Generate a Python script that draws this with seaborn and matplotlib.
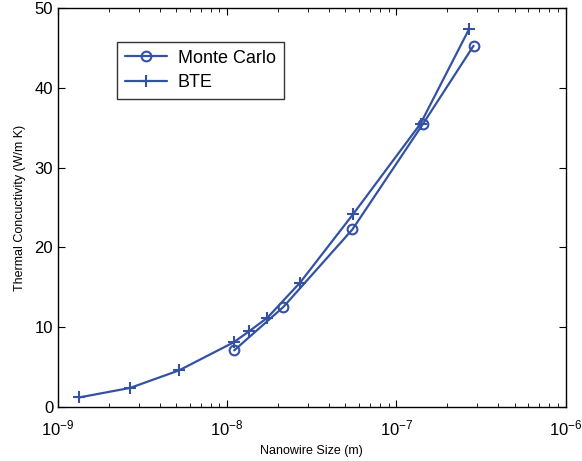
import matplotlib
matplotlib.use('Agg')
import matplotlib.pyplot as plt
import seaborn as sns
import numpy as np

sns.set_style('ticks')
plt.rcParams['font.family'] = ['Liberation Sans', 'DejaVu Sans']
plt.rcParams['text.color'] = 'black'
plt.rcParams['axes.labelcolor'] = 'black'
plt.rcParams['xtick.color'] = 'black'
plt.rcParams['ytick.color'] = 'black'
plt.rcParams['axes.edgecolor'] = 'black'

# data
mc_size = [1.1e-8, 2.14e-8, 5.5e-8, 1.43e-7, 2.86e-7]
mc_k = [7.1, 12.5, 22.25, 35.4, 45.25]
bte_size = [1.33e-9, 2.67e-9, 5.2e-9, 1.09e-8, 1.35e-8, 1.73e-8, 2.7e-8, 5.57e-8, 1.39e-7, 2.7e-7]
bte_k = [1.2, 2.4, 4.6, 8.1, 9.5, 11.2, 15.6, 24.2, 35.5, 47.4]

color = '#3452a2'

fig = plt.figure(figsize=(5.82, 4.61), dpi=100)
ax = fig.add_axes([0.0997, 0.117, 0.872, 0.866])

sns.lineplot(x=mc_size, y=mc_k, ax=ax, color=color, linewidth=1.6,
             marker='o', markersize=7, markerfacecolor='none',
             markeredgecolor=color, markeredgewidth=1.5, label='Monte Carlo', sort=False)
sns.lineplot(x=bte_size, y=bte_k, ax=ax, color=color, linewidth=1.6,
             marker='+', markersize=8, markeredgecolor=color,
             markeredgewidth=1.5, label='BTE', sort=False)

ax.set_xscale('log')
ax.set_xlim(1e-9, 1e-6)
ax.set_ylim(0, 50)
ax.set_xticks([1e-9, 1e-8, 1e-7, 1e-6])
ax.set_yticks([0, 10, 20, 30, 40, 50])
ax.tick_params(which='both', direction='in', top=True, right=True, labelsize=12)
ax.tick_params(which='major', length=5)
ax.tick_params(which='minor', length=3)
ax.tick_params(axis='x', which='major', pad=8)
for s in ax.spines.values():
    s.set_linewidth(1.0)

ax.set_xlabel('Nanowire Size (m)', fontsize=9, labelpad=5)
ax.set_ylabel('Thermal Concuctivity (W/m K)', fontsize=9, labelpad=6)

leg = ax.legend(loc='upper left', bbox_to_anchor=(0.099, 0.938), fontsize=13,
                frameon=True, fancybox=False, edgecolor='black',
                handlelength=2.3, borderpad=0.45, labelspacing=0.4,
                handletextpad=0.6)
leg.get_frame().set_linewidth(1.0)

fig.savefig('out.png', dpi=100)
